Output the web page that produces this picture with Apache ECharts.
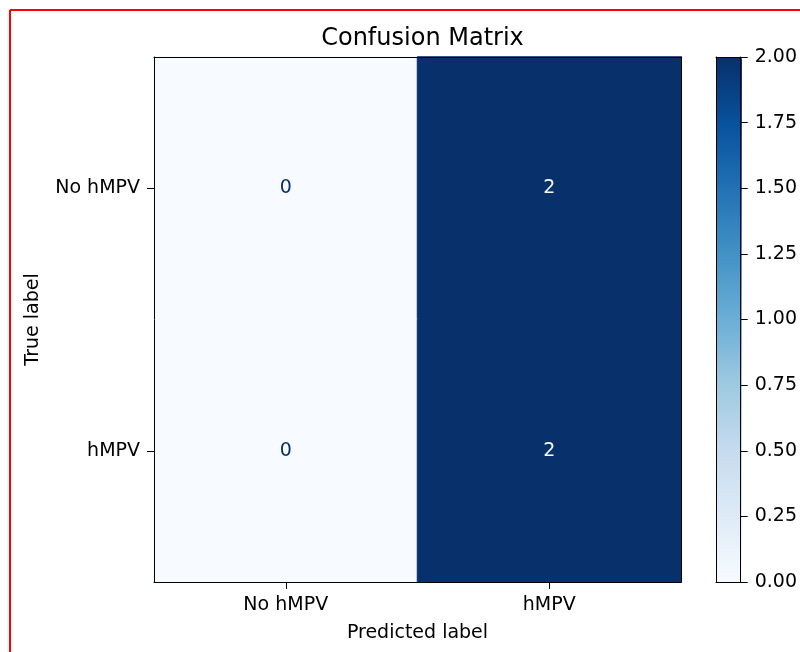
<!DOCTYPE html>
<html>
<head>
<meta charset="utf-8">
<script src="https://cdn.jsdelivr.net/npm/echarts@6/dist/echarts.min.js"></script>
<style>
html,body{margin:0;padding:0;background:#fff;}
#chart{width:800px;height:652px;}
</style>
</head>
<body>
<div id="chart"></div>
<script>
const predictedLabels = ['No hMPV', 'hMPV'];
const trueLabels = ['No hMPV', 'hMPV'];
const matrixRows = [
  [0, 2],
  [0, 2]
];
const colorbarTicks = [0, 0.25, 0.5, 0.75, 1.0, 1.25, 1.5, 1.75, 2.0];
const bluesStops = ['#f7fbff','#deebf7','#c6dbef','#9ecae1','#6baed6','#4292c6','#2171b5','#08519c','#08306b'];

const vmin = 0, vmax = 2;
const font = 'DejaVu Sans';
const fs = 19;

const data = [];
matrixRows.forEach((row, r) => {
  row.forEach((v, c) => {
    const cellColor = echarts.color.lerp((v - vmin) / (vmax - vmin), bluesStops);
    data.push({
      value: [c, r, v],
      itemStyle: { borderColor: cellColor, borderWidth: 1 },
      label: { color: v > (vmin + vmax) / 2 ? bluesStops[0] : bluesStops[8] }
    });
  });
});

const G = { left: 154, top: 57, width: 527, height: 525 };
const CB = { left: 716, top: 57, width: 26, height: 525 };

const chart = echarts.init(document.getElementById('chart'), null, { renderer: 'canvas' });
chart.setOption({
  backgroundColor: '#fff',
  animation: false,
  textStyle: { fontFamily: font },
  title: {
    text: 'Confusion Matrix',
    left: G.left + G.width / 2,
    textAlign: 'center',
    top: 22,
    textStyle: { fontFamily: font, fontSize: 24, fontWeight: 'normal', color: '#000' }
  },
  graphic: [
    { type: 'line', shape: { x1: 10, y1: 10, x2: 10, y2: 652 }, style: { stroke: '#ff0000', lineWidth: 2 }, z: 100 },
    { type: 'line', shape: { x1: 10, y1: 10, x2: 800, y2: 10 }, style: { stroke: '#ff0000', lineWidth: 2 }, z: 100 }
  ],
  grid: [
    Object.assign({ containLabel: false }, G),
    Object.assign({ containLabel: false }, CB)
  ],
  xAxis: [
    {
      type: 'category', data: predictedLabels, gridIndex: 0, position: 'bottom', z: 10,
      name: 'Predicted label', nameLocation: 'middle', nameGap: 42,
      nameTextStyle: { fontFamily: font, fontSize: fs, color: '#000' },
      axisLine: { show: true, lineStyle: { color: '#000', width: 1 } },
      axisTick: { show: true, alignWithLabel: true, length: 7, lineStyle: { color: '#000' } },
      axisLabel: { fontFamily: font, fontSize: fs, color: '#000', margin: 14 },
      splitLine: { show: false }, splitArea: { show: false }
    },
    {
      type: 'category', data: predictedLabels, gridIndex: 0, position: 'top', z: 10,
      axisLine: { show: true, lineStyle: { color: '#000', width: 1 } },
      axisTick: { show: false }, axisLabel: { show: false }, splitLine: { show: false }
    },
    {
      type: 'value', gridIndex: 1, position: 'bottom', z: 10, min: 0, max: 1,
      axisLine: { show: true, onZero: false, lineStyle: { color: '#000', width: 1 } },
      axisTick: { show: false }, axisLabel: { show: false }, splitLine: { show: false }
    },
    {
      type: 'value', gridIndex: 1, position: 'top', z: 10, min: 0, max: 1,
      axisLine: { show: true, onZero: false, lineStyle: { color: '#000', width: 1 } },
      axisTick: { show: false }, axisLabel: { show: false }, splitLine: { show: false }
    }
  ],
  yAxis: [
    {
      type: 'category', data: trueLabels, gridIndex: 0, inverse: true, position: 'left', z: 10,
      name: 'True label', nameLocation: 'middle', nameGap: 111, nameRotate: 90,
      nameTextStyle: { fontFamily: font, fontSize: fs, color: '#000' },
      axisLine: { show: true, lineStyle: { color: '#000', width: 1 } },
      axisTick: { show: true, alignWithLabel: true, length: 7, lineStyle: { color: '#000' } },
      axisLabel: { fontFamily: font, fontSize: fs, color: '#000', margin: 14 },
      splitLine: { show: false }, splitArea: { show: false }
    },
    {
      type: 'category', data: trueLabels, gridIndex: 0, inverse: true, position: 'right', z: 10,
      axisLine: { show: true, lineStyle: { color: '#000', width: 1 } },
      axisTick: { show: false }, axisLabel: { show: false }, splitLine: { show: false }
    },
    {
      type: 'value', gridIndex: 1, position: 'right', z: 10, min: vmin, max: vmax, interval: 0.25,
      axisLine: { show: true, onZero: false, lineStyle: { color: '#000', width: 1 } },
      axisTick: { show: true, length: 7, lineStyle: { color: '#000' } },
      axisLabel: { fontFamily: font, fontSize: fs, color: '#000', margin: 14,
        formatter: v => colorbarTicks.includes(v) ? v.toFixed(2) : '' },
      splitLine: { show: false }
    },
    {
      type: 'value', gridIndex: 1, position: 'left', z: 10, min: vmin, max: vmax,
      axisLine: { show: true, onZero: false, lineStyle: { color: '#000', width: 1 } },
      axisTick: { show: false }, axisLabel: { show: false }, splitLine: { show: false }
    }
  ],
  visualMap: {
    type: 'continuous',
    min: vmin, max: vmax,
    calculable: false,
    realtime: false,
    orient: 'vertical',
    left: CB.left, top: CB.top,
    itemWidth: CB.width, itemHeight: CB.height,
    padding: 0,
    text: null,
    showLabel: false,
    seriesIndex: 0,
    inRange: { color: bluesStops }
  },
  series: [{
    type: 'heatmap',
    xAxisIndex: 0, yAxisIndex: 0,
    data: data,
    label: { show: true, fontFamily: font, fontSize: fs },
    emphasis: { disabled: true }
  }]
});
</script>
</body>
</html>
